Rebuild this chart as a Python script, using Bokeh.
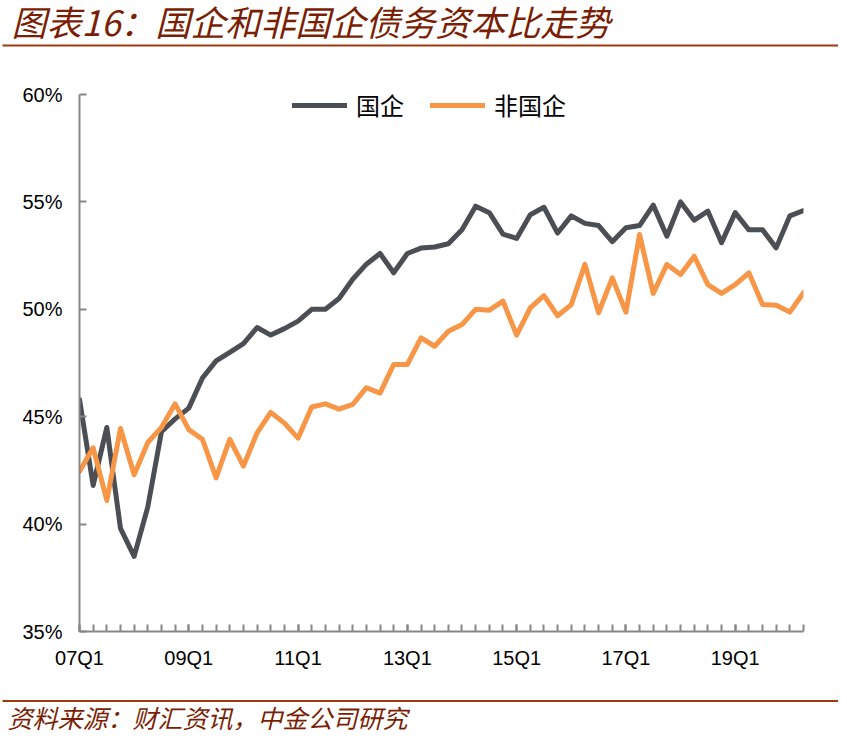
from bokeh.plotting import figure
from bokeh.models import (Range1d, FixedTicker, Legend, LegendItem, ColumnDataSource, Label)
from bokeh.embed import file_html
from bokeh.resources import INLINE

quarters = [
    "07Q1", "07Q2", "07Q3", "07Q4", "08Q1", "08Q2", "08Q3", "08Q4",
    "09Q1", "09Q2", "09Q3", "09Q4", "10Q1", "10Q2", "10Q3", "10Q4",
    "11Q1", "11Q2", "11Q3", "11Q4", "12Q1", "12Q2", "12Q3", "12Q4",
    "13Q1", "13Q2", "13Q3", "13Q4", "14Q1", "14Q2", "14Q3", "14Q4",
    "15Q1", "15Q2", "15Q3", "15Q4", "16Q1", "16Q2", "16Q3", "16Q4",
    "17Q1", "17Q2", "17Q3", "17Q4", "18Q1", "18Q2", "18Q3", "18Q4",
    "19Q1", "19Q2", "19Q3", "19Q4", "20Q1", "20Q2",
]

soe = [
    45.8, 41.8, 44.5, 39.8, 38.5, 40.8, 44.3, 44.9,
    45.4, 46.8, 47.6, 48.0, 48.4, 49.15, 48.8, 49.1,
    49.45, 50.0, 50.0, 50.5, 51.4, 52.1, 52.6, 51.7,
    52.6, 52.85, 52.9, 53.05, 53.7, 54.8, 54.5, 53.5,
    53.3, 54.4, 54.75, 53.55, 54.35, 54.0, 53.9, 53.15,
    53.8, 53.9, 54.85, 53.4, 55.0, 54.15, 54.57, 53.1,
    54.5, 53.7, 53.7, 52.86, 54.35, 54.6,
]

non_soe = [
    42.45, 43.55, 41.1, 44.45, 42.3, 43.8, 44.5, 45.6,
    44.4, 43.95, 42.15, 43.95, 42.7, 44.25, 45.2, 44.7,
    44.0, 45.45, 45.6, 45.35, 45.57, 46.35, 46.1, 47.43,
    47.43, 48.67, 48.28, 48.98, 49.29, 50.0, 49.96, 50.38,
    48.8, 50.07, 50.64, 49.7, 50.22, 52.09, 49.84, 51.46,
    49.87, 53.48, 50.74, 52.09, 51.62, 52.47, 51.15, 50.74,
    51.15, 51.7, 50.22, 50.19, 49.87, 50.77,
]

y_ticks = [35, 40, 45, 50, 55, 60]
y_tick_labels = ["35%", "40%", "45%", "50%", "55%", "60%"]
x_label_every = 8

series_names = ["国企", "非国企"]
title_text = "图表16：国企和非国企债务资本比走势"
source_text = "资料来源：财汇资讯，中金公司研究"

idx = list(range(len(quarters)))
src = ColumnDataSource(data=dict(x=idx, soe=soe, non_soe=non_soe, q=quarters))

AXIS = "#878787"
DARK = "#4B4F54"
ORANGE = "#F79646"
BROWN_TEXT = "#7A1F05"
BROWN_RULE = "#9E3A0E"

W, H = 838, 730
p = figure(
    width=W, height=H,
    output_backend="svg", toolbar_location=None,
    x_range=Range1d(0, len(quarters) - 1), y_range=Range1d(35, 60),
    min_border_left=79, min_border_right=35, min_border_top=94, min_border_bottom=99,
)
p.outline_line_color = None
p.grid.visible = False
p.background_fill_color = "white"
p.border_fill_color = "white"

xa = p.xaxis[0]
ya = p.yaxis[0]

xa.ticker = FixedTicker(ticks=idx[::x_label_every], minor_ticks=idx)
xa.major_label_overrides = {i: quarters[i] for i in idx[::x_label_every]}
ya.ticker = FixedTicker(ticks=y_ticks, minor_ticks=[])
ya.major_label_overrides = {t: l for t, l in zip(y_ticks, y_tick_labels)}

for ax in (xa, ya):
    ax.axis_line_color = AXIS
    ax.axis_line_width = 2
    ax.major_tick_line_color = AXIS
    ax.major_tick_line_width = 2
    ax.major_tick_in = 7
    ax.major_tick_out = 0
    ax.minor_tick_line_color = AXIS
    ax.minor_tick_line_width = 2
    ax.minor_tick_in = 7
    ax.minor_tick_out = 0
    ax.major_label_text_font = "Liberation Sans"
    ax.major_label_text_font_size = "20px"
    ax.major_label_text_color = "black"

xa.major_label_standoff = 15
ya.major_label_standoff = 17

r1 = p.line("x", "soe", source=src, line_color=DARK, line_width=5,
            line_join="round", line_cap="round")
r2 = p.line("x", "non_soe", source=src, line_color=ORANGE, line_width=5,
            line_join="round", line_cap="round")

legend = Legend(
    items=[LegendItem(label=series_names[0], renderers=[r1]),
           LegendItem(label=series_names[1], renderers=[r2])],
    orientation="horizontal",
    location=(213, 509),
    border_line_color=None,
    background_fill_alpha=0,
    glyph_width=55, glyph_height=28, label_height=28,
    label_standoff=9, spacing=26, padding=0, margin=0,
    label_text_font="Noto Sans CJK SC",
    label_text_font_size="24px",
    label_text_color="black",
)
p.add_layout(legend)


def rule_label(y):
    # a thin filled box drawn as a label background (canvas pixel units)
    return Label(x=2, y=y, x_units="canvas", y_units="canvas", text=" ",
                 text_font_size="1px", text_baseline="middle", text_align="left",
                 background_fill_color=BROWN_RULE, background_fill_alpha=1,
                 border_line_color=None, padding=(1, 835, 1, 0))


# title, source and the two brown rules (in side panels so they are not clipped)
p.add_layout(Label(x=11, y=20, x_units="canvas", y_units="canvas", text=title_text,
                   text_font="Noto Sans CJK SC", text_font_size="35px",
                   text_font_style="italic", text_color=BROWN_TEXT,
                   text_baseline="middle", text_align="left"), "above")
p.add_layout(rule_label(45), "above")
p.add_layout(rule_label(700.5), "below")
p.add_layout(Label(x=7, y=716, x_units="canvas", y_units="canvas", text=source_text,
                   text_font="Noto Sans CJK SC", text_font_size="25px",
                   text_font_style="italic", text_color=BROWN_TEXT,
                   text_baseline="middle", text_align="left"), "below")

open("out.html", "w").write(file_html(p, INLINE))
